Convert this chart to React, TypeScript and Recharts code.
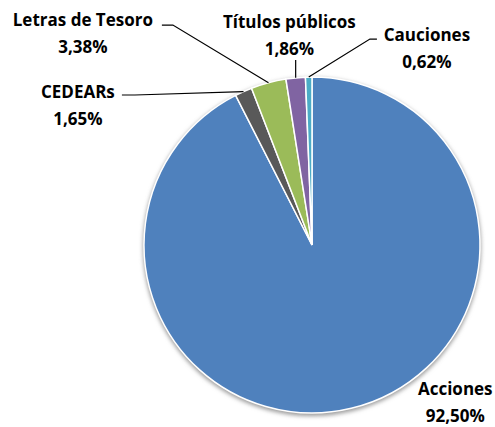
import React from 'react';
import { PieChart, Pie, Cell } from 'recharts';

const categories = ['Acciones', 'CEDEARs', 'Letras de Tesoro', 'Títulos públicos', 'Cauciones'];
const values = [92.5, 1.65, 3.38, 1.86, 0.62];
const percentLabels = ['92,50%', '1,65%', '3,38%', '1,86%', '0,62%'];
const colors = ['#4F81BD', '#595959', '#9BBB59', '#8064A2', '#4BACC6'];

const data = categories.map((name, i) => ({ name, value: values[i], pct: percentLabels[i] }));

// label placement relative to the slice's outer-edge midpoint: text centre / first baseline, leader-line points
const labelLayout: { tx: number; ty: number; line: [number, number][] }[] = [
  { tx: 104, ty: -13, line: [] },
  { tx: -165.6, ty: 6.4, line: [[-108.6, 3.4], [-121.6, 3.4]] },
  { tx: -185.6, ty: -56.7, line: [[-95.6, -57.7], [-106.6, -57.7]] },
  { tx: -6.3, ty: -49.8, line: [[0, -17.8]] },
  { tx: 118.2, ty: -36, line: [[61.2, -38], [68.2, -38]] },
];

const RADIAN = Math.PI / 180;
const FONT = '"Open Sans", Lato, sans-serif';

const renderLabel = (props: any) => {
  const { cx, cy, midAngle, outerRadius, index } = props;
  const ex = cx + outerRadius * Math.cos(-midAngle * RADIAN);
  const ey = cy + outerRadius * Math.sin(-midAngle * RADIAN);
  const lay = labelLayout[index];
  const pts = [[ex, ey], ...lay.line.map(([dx, dy]) => [ex + dx, ey + dy])];
  const d = pts.map((p, i) => `${i === 0 ? 'M' : 'L'}${p[0]},${p[1]}`).join(' ');
  const tx = ex + lay.tx;
  const ty = ey + lay.ty;
  return (
    <g key={`lbl-${index}`}>
      {lay.line.length > 0 && <path d={d} stroke="#000" strokeWidth={1.2} fill="none" />}
      <text x={tx} y={ty} textAnchor="middle" fontFamily={FONT} fontWeight={700} fontSize={17} fill="#000">
        {data[index].name}
      </text>
      <text x={tx} y={ty + 27} textAnchor="middle" fontFamily={FONT} fontWeight={700} fontSize={17} fill="#000">
        {data[index].pct}
      </text>
    </g>
  );
};

export default function App() {
  return (
    <div style={{ position: 'absolute', left: 0, top: 0, width: 495, height: 427, background: '#fff' }}>
      <PieChart width={495} height={427} margin={{ top: 0, right: 0, bottom: 0, left: 0 }}>
        <defs>
          <filter id="pieShadow" x="-20%" y="-20%" width="140%" height="140%">
            <feGaussianBlur stdDeviation="2" />
          </filter>
        </defs>
        <Pie
          data={data}
          dataKey="value"
          cx={312}
          cy={247}
          outerRadius={169}
          startAngle={90}
          endAngle={-270}
          stroke="none"
          isAnimationActive={false}
          label={false}
          labelLine={false}
          legendType="none"
        >
          {data.map((_, i) => (
            <Cell key={`s-${i}`} fill="#9a9a9a" filter="url(#pieShadow)" />
          ))}
        </Pie>
        <Pie
          data={data}
          dataKey="value"
          cx={312}
          cy={245}
          outerRadius={168}
          startAngle={90}
          endAngle={-270}
          stroke="#fff"
          strokeWidth={1.5}
          isAnimationActive={false}
          label={renderLabel}
          labelLine={false}
        >
          {data.map((_, i) => (
            <Cell key={`c-${i}`} fill={colors[i]} />
          ))}
        </Pie>
      </PieChart>
    </div>
  );
}
